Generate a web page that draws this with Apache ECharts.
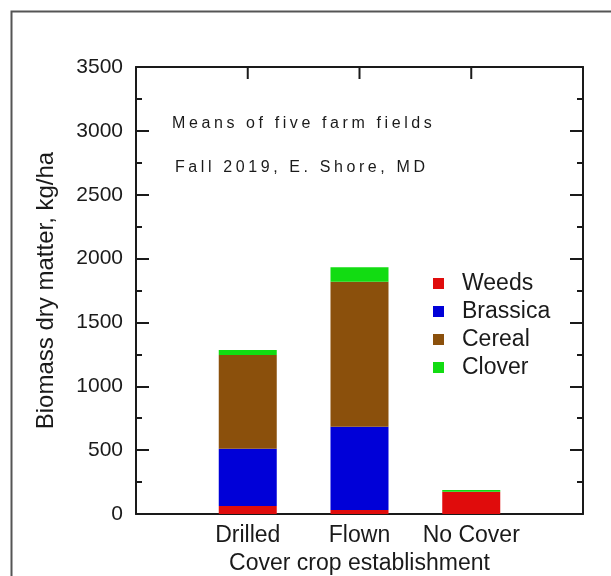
<!DOCTYPE html>
<html>
<head>
<meta charset="utf-8">
<script src="https://cdn.jsdelivr.net/npm/echarts@6/dist/echarts.min.js"></script>
<style>
  html, body { margin: 0; padding: 0; background: #fff; }
  #chart { width: 611px; height: 576px; }
</style>
</head>
<body>
<div id="chart"></div>
<script>
// Cover crop biomass, stacked by plant group
const categories = ['', 'Drilled', 'Flown', 'No Cover', ''];
const weeds    = [null, 63, 31, 175, null];
const brassica = [null, 448, 653, 0, null];
const cereal   = [null, 734, 1135, 0, null];
const clover   = [null, 39, 113, 12, null];
const yTicks = { min: 0, max: 3500, interval: 500 };

const FONT = '"Liberation Sans", Arial, sans-serif';
const INK = '#1a1a1a';

// Tracked (letter-spaced) lettering for the two note lines, which are the only 16px text.
(function () {
  const proto = CanvasRenderingContext2D.prototype;
  const orig = proto.fillText;
  proto.fillText = function (t, x, y, w) {
    const f = this.font || '';
    const tracked = f.indexOf('16px') !== -1;
    if ('letterSpacing' in this) {
      this.letterSpacing = tracked ? '3.6px' : '0px';
      this.font = f;
    }
    return w === undefined ? orig.call(this, t, x, y) : orig.call(this, t, x, y, w);
  };
})();

const chart = echarts.init(document.getElementById('chart'), null, { renderer: 'canvas' });

function barSeries(name, data, color) {
  return {
    name: name,
    type: 'bar',
    stack: 'total',
    barWidth: 58,
    data: data,
    itemStyle: { color: color },
    emphasis: { disabled: true },
    animation: false
  };
}

// Category ticks hanging from the top frame edge, placed through the category scale
const topTicks = categories
  .map(function (c, i) { return c ? [i, yTicks.max] : null; })
  .filter(function (d) { return d !== null; });

const axisLine = { show: true, onZero: false, lineStyle: { color: INK, width: 2 } };
const plain = function (v) { return String(v); };
const noTick = { show: false, length: 0, lineStyle: { color: 'rgba(0,0,0,0)', width: 0 } };

chart.setOption({
  animation: false,
  backgroundColor: '#fff',
  textStyle: { fontFamily: FONT },
  grid: { left: 136, right: 28, top: 67, bottom: 62, containLabel: false, outerBoundsMode: 'none' },
  legend: {
    orient: 'vertical',
    left: 433,
    top: 272,
    padding: 0,
    icon: 'rect',
    itemWidth: 11,
    itemHeight: 11,
    itemGap: 5,
    selectedMode: false,
    textStyle: { fontSize: 23, color: INK, fontFamily: FONT, lineHeight: 23, padding: [0, 0, 0, 13] },
    data: ['Weeds', 'Brassica', 'Cereal', 'Clover']
  },
  xAxis: [
    {
      type: 'category',
      position: 'bottom',
      data: categories,
      boundaryGap: false,
      axisLine: axisLine,
      axisTick: noTick,
      axisLabel: { fontSize: 23, color: INK, margin: 10, interval: 0, fontFamily: FONT },
      splitLine: { show: false },
      name: 'Cover crop establishment',
      nameLocation: 'middle',
      nameGap: 38,
      nameTextStyle: { fontSize: 23, color: INK, fontFamily: FONT }
    },
    {
      type: 'category',
      position: 'top',
      data: categories,
      boundaryGap: false,
      axisLine: axisLine,
      axisTick: noTick,
      axisLabel: { show: false },
      splitLine: { show: false }
    }
  ],
  yAxis: [
    {
      type: 'value',
      position: 'left',
      min: yTicks.min, max: yTicks.max, interval: yTicks.interval,
      axisLine: axisLine,
      axisTick: { show: true, inside: true, length: 13, lineStyle: { color: INK, width: 2 } },
      minorTick: { show: true, splitNumber: 2, length: 6, lineStyle: { color: INK, width: 2 } },
      axisLabel: { fontSize: 21, color: INK, margin: 13, fontFamily: FONT, formatter: plain },
      splitLine: { show: false },
      name: 'Biomass dry matter, kg/ha',
      nameLocation: 'middle',
      nameGap: 78,
      nameTextStyle: { fontSize: 24, color: INK, fontFamily: FONT }
    },
    {
      type: 'value',
      position: 'right',
      min: yTicks.min, max: yTicks.max, interval: yTicks.interval,
      axisLine: axisLine,
      axisTick: { show: true, inside: true, length: 13, lineStyle: { color: INK, width: 2 } },
      minorTick: { show: true, splitNumber: 2, length: 6, lineStyle: { color: INK, width: 2 } },
      axisLabel: { show: false },
      splitLine: { show: false }
    }
  ],
  graphic: [
    {
      type: 'rect',
      left: 9, top: 9,
      shape: { width: 640, height: 620 },
      style: { fill: 'none', stroke: '#555', lineWidth: 2 },
      silent: true, z: -1
    },
    {
      type: 'text',
      left: 172, top: 116,
      style: { text: 'Means of five farm fields', font: '16px ' + FONT, fill: INK }
    },
    {
      type: 'text',
      left: 175, top: 160,
      style: { text: 'Fall 2019, E. Shore, MD', font: '16px ' + FONT, fill: INK }
    }
  ],
  series: [
    barSeries('Weeds', weeds, '#e00c0c'),
    barSeries('Brassica', brassica, '#0000d8'),
    barSeries('Cereal', cereal, '#8b500c'),
    barSeries('Clover', clover, '#12dc12'),
    {
      name: 'topTicks',
      type: 'custom',
      xAxisIndex: 0,
      yAxisIndex: 0,
      silent: true,
      clip: false,
      z: 5,
      data: topTicks,
      renderItem: function (params, api) {
        const p = api.coord([api.value(0), api.value(1)]);
        return {
          type: 'line',
          shape: { x1: p[0], y1: p[1], x2: p[0], y2: p[1] + 12 },
          style: { stroke: INK, lineWidth: 2 }
        };
      }
    }
  ]
});
</script>
</body>
</html>
